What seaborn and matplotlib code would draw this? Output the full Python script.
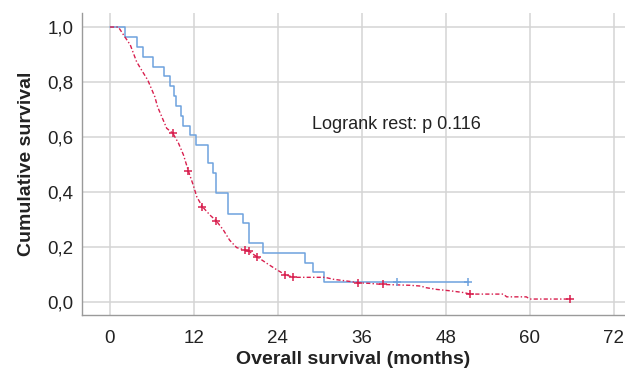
import numpy as np
import pandas as pd
import matplotlib
matplotlib.use("Agg")
import matplotlib.pyplot as plt
import seaborn as sns

# ---- data ----
blue_t = [0, 2.14, 3.8, 4.67, 6.1, 7.76, 8.57, 9.14, 9.5, 10.1, 10.5, 11.4, 12.3,
          13.96, 14.67, 15.1, 16.8, 19.0, 19.9, 21.8, 27.9, 28.96, 30.6, 51.2]
blue_s = [1.0, 0.963, 0.929, 0.892, 0.856, 0.822, 0.785, 0.749, 0.713, 0.677, 0.641,
          0.607, 0.571, 0.504, 0.468, 0.395, 0.322, 0.286, 0.213, 0.179, 0.143, 0.109,
          0.072, 0.072]
blue_cens_t = [41.0, 51.2]
blue_cens_s = [0.072, 0.072]

red_t = [0, 1.2, 2.1, 2.9, 3.8, 4.5, 5.4, 6.4, 6.8, 7.4, 8.1, 9.0, 9.8, 10.5, 11.2,
         11.9, 12.4, 13.2, 14.3, 15.2, 16.2, 17.1, 18.1, 19.3, 19.8, 21.0, 22.4, 23.8,
         25.0, 26.2, 30.7, 31.9, 34.3, 35.5, 37.1, 39.0, 42.9, 44.5, 45.0, 46.7, 48.6,
         50.7, 51.4, 56.2, 56.7, 59.5, 60.0, 65.7]
red_s = [1.0, 1.0, 0.965, 0.935, 0.874, 0.844, 0.807, 0.747, 0.71, 0.674, 0.632, 0.613,
         0.577, 0.535, 0.477, 0.425, 0.383, 0.347, 0.316, 0.295, 0.262, 0.225, 0.198,
         0.189, 0.185, 0.165, 0.141, 0.118, 0.100, 0.090, 0.090, 0.083, 0.075, 0.070,
         0.068, 0.064, 0.061, 0.058, 0.053, 0.046, 0.041, 0.034, 0.029, 0.029, 0.019,
         0.019, 0.011, 0.011]
red_cens_t = [9.0, 11.2, 13.2, 15.2, 19.3, 19.8, 21.0, 25.0, 26.2, 35.5, 39.0, 51.4, 65.7]
red_cens_s = [0.613, 0.477, 0.347, 0.295, 0.189, 0.185, 0.165, 0.100, 0.090, 0.070,
              0.064, 0.029, 0.011]

x_ticks = [0, 12, 24, 36, 48, 60, 72]
y_ticks = [0.0, 0.2, 0.4, 0.6, 0.8, 1.0]
y_tick_labels = ["0,0", "0,2", "0,4", "0,6", "0,8", "1,0"]
annotation = "Logrank rest: p 0.116"
x_label = "Overall survival (months)"
y_label = "Cumulative survival"

# ---- styling ----
sns.set_theme(style="whitegrid")
plt.rcParams["font.family"] = ["Liberation Sans", "DejaVu Sans"]

BLUE = "#6ea2de"
RED = "#d81f4e"
GRID = "#d4d4d4"

fig = plt.figure(figsize=(6.25, 3.73), dpi=100)
ax = fig.add_axes([82 / 625, 58 / 373, 543 / 625, 302 / 373])

blue_df = pd.DataFrame({"t": blue_t, "s": blue_s})
red_df = pd.DataFrame({"t": red_t, "s": red_s})

sns.lineplot(data=blue_df, x="t", y="s", ax=ax, sort=False, estimator=None,
             color=BLUE, linewidth=1.1, drawstyle="steps-post", zorder=3)
sns.lineplot(data=red_df, x="t", y="s", ax=ax, sort=False, estimator=None,
             color=RED, linewidth=1.0, linestyle=(0, (3, 1.6, 1, 1.6)), zorder=4)

sns.scatterplot(x=blue_cens_t, y=blue_cens_s, ax=ax, marker="+", s=28,
                color=BLUE, linewidth=1.1, zorder=5)
sns.scatterplot(x=red_cens_t, y=red_cens_s, ax=ax, marker="+", s=28,
                color=RED, linewidth=1.1, zorder=6)

ax.set_xlim(-4, 73.6)
ax.set_ylim(-0.047, 1.051)
ax.set_xticks(x_ticks)
ax.set_xticklabels([str(v) for v in x_ticks])
ax.set_yticks(y_ticks)
ax.set_yticklabels(y_tick_labels)

ax.grid(True, color=GRID, linewidth=1.1)
ax.set_axisbelow(True)
ax.set_facecolor("white")
for side in ["top", "right"]:
    ax.spines[side].set_visible(False)
for side in ["left", "bottom"]:
    ax.spines[side].set_visible(True)
    ax.spines[side].set_color("#9a9a9a")
    ax.spines[side].set_linewidth(1.0)

ax.tick_params(axis="both", length=0, labelsize=13.5, colors="#222222")
ax.tick_params(axis="x", pad=11)
ax.tick_params(axis="y", pad=6)

ax.set_xlabel(x_label, fontsize=14, fontweight="bold", color="#222222", labelpad=3)
ax.set_ylabel(y_label, fontsize=14, fontweight="bold", color="#222222", labelpad=9)

ax.text(28.9, 0.647, annotation, fontsize=13, color="#222222", va="center", ha="left")

fig.savefig("out.png", dpi=100)
